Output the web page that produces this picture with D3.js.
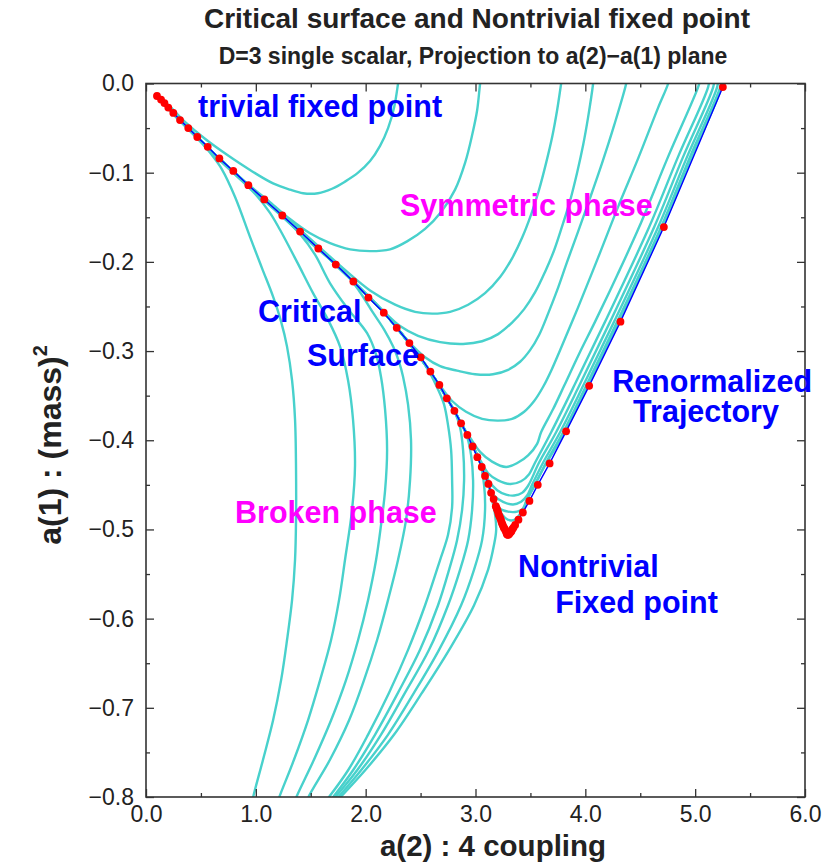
<!DOCTYPE html>
<html><head><meta charset="utf-8">
<script src="https://cdn.jsdelivr.net/npm/d3@7"></script>
<style>body{margin:0;background:#fff}svg{display:block}text{font-family:"Liberation Sans",Arial,Helvetica,sans-serif}</style>
</head><body><svg id="chart" width="836" height="864"></svg>
<script>
// ---------- DATA ----------
const xMajor = [0,1,2,3,4,5,6];
const xMinor = [0.5,1.5,2.5,3.5,4.5,5.5];
const yMajor = [0,-0.1,-0.2,-0.3,-0.4,-0.5,-0.6,-0.7,-0.8];
const yMinor = [-0.05,-0.15,-0.25,-0.35,-0.45,-0.55,-0.65,-0.75];

// Renormalized trajectory (red dots / blue line)
const trajectory = [[0.100,-0.014],[0.137,-0.018],[0.168,-0.022],[0.203,-0.027],[0.249,-0.033],[0.310,-0.041],[0.385,-0.050],[0.467,-0.060],[0.562,-0.071],[0.668,-0.084],[0.795,-0.098],[0.932,-0.114],[1.077,-0.130],[1.241,-0.148],[1.403,-0.166],[1.569,-0.185],[1.728,-0.203],[1.888,-0.222],[2.025,-0.240],[2.165,-0.257],[2.283,-0.274],[2.398,-0.291],[2.502,-0.307],[2.589,-0.323],[2.671,-0.338],[2.739,-0.353],[2.808,-0.367],[2.869,-0.381],[2.926,-0.394],[2.974,-0.407],[3.017,-0.419],[3.057,-0.430],[3.087,-0.440],[3.118,-0.449],[3.142,-0.459],[3.165,-0.466],[3.185,-0.474],[3.192,-0.476],[3.198,-0.478],[3.204,-0.480],[3.210,-0.483],[3.217,-0.485],[3.224,-0.487],[3.231,-0.489],[3.238,-0.492],[3.244,-0.494],[3.251,-0.496],[3.258,-0.498],[3.265,-0.499],[3.272,-0.501],[3.279,-0.503],[3.285,-0.505],[3.292,-0.506],[3.299,-0.506],[3.306,-0.505],[3.313,-0.504],[3.320,-0.503],[3.327,-0.502],[3.333,-0.500],[3.345,-0.498],[3.361,-0.495],[3.391,-0.489],[3.431,-0.481],[3.491,-0.468],[3.567,-0.450],[3.675,-0.426],[3.825,-0.390],[4.035,-0.339],[4.320,-0.267],[4.715,-0.161],[5.252,-0.004]];

// Flows into the symmetric phase
const symFlow1 = [[0.100,-0.013],[0.219,-0.026],[0.355,-0.043],[0.537,-0.062],[0.738,-0.080],[0.947,-0.097],[1.157,-0.112],[1.311,-0.119],[1.430,-0.123],[1.566,-0.123],[1.694,-0.118],[1.812,-0.110],[1.931,-0.100],[2.040,-0.087],[2.131,-0.070],[2.204,-0.050],[2.259,-0.027],[2.295,0.000],[2.302,0.006]];
const symFlow2 = [[0.100,-0.014],[0.310,-0.041],[0.665,-0.084],[0.929,-0.113],[1.129,-0.133],[1.311,-0.152],[1.494,-0.168],[1.676,-0.179],[1.858,-0.186],[2.040,-0.188],[2.222,-0.186],[2.377,-0.177],[2.541,-0.163],[2.687,-0.144],[2.814,-0.119],[2.905,-0.089],[2.969,-0.058],[3.015,-0.030],[3.042,0.000],[3.050,0.006]];
const symFlow3 = [[0.100,-0.014],[0.310,-0.041],[0.665,-0.084],[0.929,-0.114],[1.239,-0.146],[1.566,-0.182],[1.812,-0.209],[2.040,-0.232],[2.268,-0.248],[2.450,-0.256],[2.605,-0.258],[2.769,-0.256],[2.933,-0.248],[3.087,-0.235],[3.224,-0.217],[3.333,-0.196],[3.424,-0.173],[3.506,-0.147],[3.579,-0.119],[3.643,-0.089],[3.698,-0.060],[3.743,-0.030],[3.780,0.000],[3.788,0.006]];
const symFlow4 = [[0.100,-0.014],[0.310,-0.041],[0.665,-0.084],[0.929,-0.114],[1.239,-0.147],[1.566,-0.184],[1.894,-0.223],[2.168,-0.256],[2.313,-0.272],[2.477,-0.283],[2.678,-0.290],[2.887,-0.292],[3.060,-0.289],[3.206,-0.281],[3.333,-0.268],[3.443,-0.253],[3.543,-0.234],[3.634,-0.211],[3.716,-0.187],[3.789,-0.160],[3.862,-0.131],[3.925,-0.100],[3.980,-0.069],[4.025,-0.038],[4.071,0.000],[4.076,0.006]];
const symFlow5 = [[0.100,-0.014],[0.310,-0.041],[0.665,-0.084],[0.929,-0.114],[1.239,-0.147],[1.566,-0.184],[1.894,-0.223],[2.168,-0.257],[2.395,-0.290],[2.541,-0.307],[2.678,-0.317],[2.832,-0.322],[2.996,-0.326],[3.160,-0.326],[3.297,-0.321],[3.406,-0.312],[3.497,-0.299],[3.579,-0.282],[3.661,-0.258],[3.743,-0.232],[3.834,-0.200],[3.934,-0.166],[4.044,-0.128],[4.153,-0.089],[4.262,-0.047],[4.372,0.000],[4.378,0.006]];
const symFlow6 = [[0.100,-0.014],[0.310,-0.041],[0.665,-0.084],[0.929,-0.114],[1.239,-0.147],[1.566,-0.184],[1.894,-0.223],[2.168,-0.257],[2.395,-0.291],[2.587,-0.323],[2.678,-0.339],[2.787,-0.356],[2.914,-0.368],[3.060,-0.376],[3.206,-0.378],[3.333,-0.376],[3.443,-0.368],[3.534,-0.356],[3.616,-0.340],[3.689,-0.322],[3.770,-0.299],[3.934,-0.251],[4.117,-0.195],[4.299,-0.138],[4.481,-0.084],[4.663,-0.027],[4.754,0.000],[4.762,0.006]];
const symFlow7 = [[0.100,-0.014],[0.310,-0.041],[0.665,-0.084],[0.929,-0.114],[1.239,-0.147],[1.566,-0.184],[1.894,-0.223],[2.168,-0.257],[2.395,-0.291],[2.587,-0.323],[2.741,-0.353],[2.869,-0.381],[2.951,-0.397],[3.042,-0.413],[3.151,-0.424],[3.279,-0.430],[3.388,-0.425],[3.479,-0.417],[3.561,-0.404],[3.597,-0.391],[3.707,-0.365],[3.807,-0.339],[3.944,-0.303],[4.089,-0.267],[4.290,-0.215],[4.490,-0.161],[4.754,-0.082],[5.027,-0.004],[5.050,0.006]];
const symFlow8 = [[0.100,-0.014],[0.310,-0.041],[0.665,-0.084],[0.929,-0.114],[1.239,-0.147],[1.566,-0.184],[1.894,-0.223],[2.168,-0.257],[2.395,-0.291],[2.587,-0.323],[2.741,-0.353],[2.869,-0.381],[2.978,-0.407],[3.042,-0.422],[3.115,-0.437],[3.206,-0.445],[3.315,-0.449],[3.415,-0.446],[3.488,-0.438],[3.543,-0.425],[3.689,-0.391],[3.898,-0.339],[4.180,-0.267],[4.581,-0.161],[4.845,-0.082],[5.118,-0.004],[5.130,0.006]];
const symFlow9 = [[0.100,-0.014],[0.310,-0.041],[0.665,-0.084],[0.929,-0.114],[1.239,-0.147],[1.566,-0.184],[1.894,-0.223],[2.168,-0.257],[2.395,-0.291],[2.587,-0.323],[2.741,-0.353],[2.869,-0.381],[2.978,-0.407],[3.060,-0.430],[3.124,-0.446],[3.197,-0.456],[3.279,-0.461],[3.352,-0.462],[3.424,-0.459],[3.479,-0.451],[3.579,-0.425],[3.734,-0.391],[3.944,-0.339],[4.226,-0.267],[4.627,-0.161],[4.891,-0.082],[5.164,-0.004],[5.175,0.006]];
const symFlow10 = [[0.100,-0.014],[0.310,-0.041],[0.665,-0.084],[0.929,-0.114],[1.239,-0.147],[1.566,-0.184],[1.894,-0.223],[2.168,-0.257],[2.395,-0.291],[2.587,-0.323],[2.741,-0.353],[2.869,-0.381],[2.978,-0.407],[3.060,-0.430],[3.115,-0.449],[3.169,-0.462],[3.251,-0.469],[3.342,-0.472],[3.415,-0.469],[3.470,-0.462],[3.515,-0.450],[3.616,-0.425],[3.770,-0.391],[3.980,-0.339],[4.262,-0.267],[4.663,-0.161],[4.927,-0.082],[5.200,-0.004],[5.210,0.006]];
const symFlow11 = [[0.100,-0.014],[0.310,-0.041],[0.665,-0.084],[0.929,-0.114],[1.239,-0.147],[1.566,-0.184],[1.894,-0.223],[2.168,-0.257],[2.395,-0.291],[2.587,-0.323],[2.741,-0.353],[2.869,-0.381],[2.978,-0.407],[3.060,-0.430],[3.115,-0.449],[3.169,-0.466],[3.215,-0.476],[3.297,-0.480],[3.379,-0.480],[3.443,-0.476],[3.461,-0.468],[3.543,-0.450],[3.643,-0.425],[3.798,-0.391],[4.007,-0.339],[4.290,-0.267],[4.690,-0.161],[4.954,-0.082],[5.228,-0.004],[5.240,0.006]];
const symFlow12 = [[0.100,-0.014],[0.310,-0.041],[0.665,-0.084],[0.929,-0.114],[1.239,-0.147],[1.566,-0.184],[1.894,-0.223],[2.168,-0.257],[2.395,-0.291],[2.587,-0.323],[2.741,-0.353],[2.869,-0.381],[2.978,-0.407],[3.060,-0.430],[3.115,-0.449],[3.169,-0.466],[3.215,-0.478],[3.270,-0.487],[3.324,-0.490],[3.370,-0.488],[3.397,-0.484],[3.443,-0.474],[3.525,-0.453],[3.634,-0.428],[3.811,-0.391],[4.021,-0.339],[4.303,-0.267],[4.704,-0.161],[4.973,-0.082],[5.241,-0.004],[5.250,0.006]];

// Flows into the broken phase
const brkFlow1 = [[0.100,-0.015],[0.237,-0.032],[0.383,-0.050],[0.510,-0.067],[0.605,-0.081],[0.690,-0.096],[0.810,-0.127],[0.947,-0.172],[1.056,-0.207],[1.157,-0.239],[1.230,-0.267],[1.284,-0.295],[1.330,-0.333],[1.357,-0.377],[1.366,-0.433],[1.366,-0.489],[1.357,-0.534],[1.330,-0.579],[1.284,-0.624],[1.230,-0.669],[1.157,-0.714],[1.066,-0.758],[0.974,-0.801],[0.965,-0.808]];
const brkFlow2 = [[0.100,-0.015],[0.310,-0.042],[0.665,-0.085],[0.838,-0.105],[1.002,-0.125],[1.129,-0.145],[1.220,-0.164],[1.375,-0.200],[1.521,-0.235],[1.658,-0.265],[1.767,-0.295],[1.840,-0.333],[1.885,-0.377],[1.903,-0.428],[1.876,-0.478],[1.812,-0.534],[1.758,-0.579],[1.685,-0.624],[1.585,-0.669],[1.475,-0.714],[1.348,-0.758],[1.211,-0.801],[1.193,-0.808]];
const brkFlow3 = [[0.100,-0.015],[0.310,-0.042],[0.665,-0.085],[0.929,-0.115],[1.239,-0.149],[1.403,-0.169],[1.539,-0.192],[1.676,-0.224],[1.840,-0.253],[2.013,-0.280],[2.095,-0.304],[2.140,-0.329],[2.177,-0.366],[2.195,-0.411],[2.177,-0.456],[2.140,-0.495],[2.095,-0.534],[2.022,-0.579],[1.931,-0.624],[1.821,-0.669],[1.685,-0.714],[1.530,-0.758],[1.366,-0.801],[1.348,-0.808]];
const brkFlow4 = [[0.100,-0.015],[0.310,-0.042],[0.665,-0.085],[0.929,-0.115],[1.239,-0.149],[1.566,-0.186],[1.812,-0.212],[1.949,-0.234],[2.067,-0.257],[2.168,-0.276],[2.250,-0.295],[2.304,-0.312],[2.341,-0.329],[2.386,-0.360],[2.413,-0.400],[2.404,-0.445],[2.368,-0.489],[2.295,-0.534],[2.204,-0.579],[2.104,-0.624],[1.985,-0.669],[1.849,-0.714],[1.676,-0.758],[1.475,-0.801],[1.457,-0.808]];
const brkFlow5 = [[0.100,-0.014],[0.310,-0.041],[0.665,-0.084],[0.929,-0.114],[1.239,-0.147],[1.566,-0.184],[1.894,-0.223],[2.168,-0.257],[2.395,-0.291],[2.495,-0.307],[2.587,-0.325],[2.659,-0.343],[2.714,-0.360],[2.750,-0.383],[2.778,-0.411],[2.787,-0.445],[2.787,-0.475],[2.750,-0.506],[2.678,-0.534],[2.541,-0.585],[2.386,-0.635],[2.213,-0.683],[2.022,-0.730],[1.840,-0.770],[1.648,-0.803]];
const brkFlow6 = [[0.100,-0.014],[0.310,-0.041],[0.665,-0.084],[0.929,-0.114],[1.239,-0.147],[1.566,-0.184],[1.894,-0.223],[2.168,-0.257],[2.395,-0.291],[2.587,-0.323],[2.741,-0.353],[2.814,-0.369],[2.860,-0.386],[2.887,-0.411],[2.896,-0.445],[2.878,-0.478],[2.832,-0.512],[2.760,-0.545],[2.659,-0.585],[2.495,-0.635],[2.295,-0.683],[2.086,-0.730],[1.885,-0.770],[1.685,-0.803]];
const brkFlow7 = [[0.100,-0.014],[0.310,-0.041],[0.665,-0.084],[0.929,-0.114],[1.239,-0.147],[1.566,-0.184],[1.894,-0.223],[2.168,-0.257],[2.395,-0.291],[2.587,-0.323],[2.741,-0.353],[2.869,-0.381],[2.923,-0.396],[2.960,-0.417],[2.978,-0.445],[2.969,-0.478],[2.933,-0.512],[2.860,-0.545],[2.750,-0.585],[2.577,-0.635],[2.359,-0.683],[2.140,-0.730],[1.922,-0.770],[1.703,-0.803]];
const brkFlow8 = [[0.100,-0.014],[0.310,-0.041],[0.665,-0.084],[0.929,-0.114],[1.239,-0.147],[1.566,-0.184],[1.894,-0.223],[2.168,-0.257],[2.395,-0.291],[2.587,-0.323],[2.741,-0.353],[2.869,-0.381],[2.978,-0.407],[3.042,-0.425],[3.078,-0.450],[3.087,-0.478],[3.060,-0.512],[2.987,-0.545],[2.869,-0.585],[2.668,-0.635],[2.441,-0.683],[2.204,-0.730],[1.958,-0.770],[1.730,-0.803]];
const brkFlow9 = [[0.100,-0.014],[0.310,-0.041],[0.665,-0.084],[0.929,-0.114],[1.239,-0.147],[1.566,-0.184],[1.894,-0.223],[2.168,-0.257],[2.395,-0.291],[2.587,-0.323],[2.741,-0.353],[2.869,-0.381],[2.978,-0.407],[3.060,-0.430],[3.115,-0.449],[3.151,-0.467],[3.179,-0.484],[3.188,-0.501],[3.169,-0.517],[3.115,-0.545],[2.987,-0.585],[2.760,-0.635],[2.514,-0.683],[2.259,-0.730],[1.995,-0.770],[1.749,-0.803]];

const symFlows = [symFlow1,symFlow2,symFlow3,symFlow4,symFlow5,symFlow6,symFlow7,symFlow8,symFlow9,symFlow10,symFlow11,symFlow12];
const brkFlows = [brkFlow1,brkFlow2,brkFlow3,brkFlow4,brkFlow5,brkFlow6,brkFlow7,brkFlow8,brkFlow9];

// Annotations: text and anchor in data units
const annotations = [
  {text:"trivial fixed point", x:0.474, y:-0.0376, color:"blue"},
  {text:"Symmetric phase", x:2.313, y:-0.1485, color:"magenta"},
  {text:"Critical", x:1.020, y:-0.267, color:"blue"},
  {text:"Surface", x:1.466, y:-0.3167, color:"blue"},
  {text:"Renormalized", x:4.244, y:-0.346, color:"blue"},
  {text:"Trajectory", x:4.435, y:-0.379, color:"blue"},
  {text:"Broken phase", x:0.811, y:-0.4927, color:"magenta"},
  {text:"Nontrivial", x:3.388, y:-0.5533, color:"blue"},
  {text:"Fixed point", x:3.725, y:-0.5936, color:"blue"}
];

const titleText = "Critical surface and Nontrivial fixed point";
const subtitleText = "D=3 single scalar, Projection to a(2)\u2212a(1) plane";
const xLabel = "a(2) : 4 coupling";
const yLabel = "a(1) : (mass)";

// ---------- DRAWING ----------
const svg = d3.select("#chart");
const L=146, R=805, T=83.5, B=797;
const x = d3.scaleLinear().domain([0,6]).range([L,R]);
const y = d3.scaleLinear().domain([-0.8,0]).range([B,T]);
const colors = {blue:"#0000ff", magenta:"#ff00ff", cyan:"#48d1cc", red:"#ff0000", axis:"#333333", text:"#222222"};

svg.append("rect").attr("width",836).attr("height",864).attr("fill","#fff");
svg.append("defs").append("clipPath").attr("id","plotclip")
  .append("rect").attr("x",L).attr("y",T).attr("width",R-L).attr("height",B-T);

const line = d3.line().x(d=>x(d[0])).y(d=>y(d[1])).curve(d3.curveCatmullRom.alpha(0.5));
const plot = svg.append("g").attr("clip-path","url(#plotclip)");
plot.selectAll("path.flow").data(symFlows.concat(brkFlows)).join("path")
  .attr("class","flow").attr("d",line).attr("fill","none")
  .attr("stroke",colors.cyan).attr("stroke-width",2.4).attr("stroke-linejoin","round");

plot.append("path").datum(trajectory).attr("d",d3.line().x(d=>x(d[0])).y(d=>y(d[1])))
  .attr("fill","none").attr("stroke",colors.blue).attr("stroke-width",1.4);

svg.append("g").selectAll("circle").data(trajectory).join("circle")
  .attr("cx",d=>x(d[0])).attr("cy",d=>y(d[1])).attr("r",3.9).attr("fill",colors.red);

// axes
const fmtX = d=>d.toFixed(1);
const fmtY = d=> d===0 ? "0.0" : "\u2212"+Math.abs(d).toFixed(1);
function styleAxis(g){
  g.select(".domain").remove();
  g.selectAll(".tick line").attr("stroke",colors.axis).attr("stroke-width",1.3);
  g.selectAll(".tick text").attr("fill",colors.text).style("font-size","23px");
}
svg.append("g").attr("transform",`translate(0,${B})`)
  .call(d3.axisBottom(x).tickValues(xMajor).tickSize(-8).tickPadding(9).tickFormat(fmtX)).call(styleAxis);
svg.append("g").attr("transform",`translate(0,${B})`)
  .call(d3.axisBottom(x).tickValues(xMinor).tickSize(-4).tickFormat("")).call(styleAxis);
svg.append("g").attr("transform",`translate(0,${T})`)
  .call(d3.axisTop(x).tickValues(xMajor).tickSize(-8).tickFormat("")).call(styleAxis);
svg.append("g").attr("transform",`translate(0,${T})`)
  .call(d3.axisTop(x).tickValues(xMinor).tickSize(-4).tickFormat("")).call(styleAxis);
svg.append("g").attr("transform",`translate(${L},0)`)
  .call(d3.axisLeft(y).tickValues(yMajor).tickSize(-8).tickPadding(12).tickFormat(fmtY)).call(styleAxis);
svg.append("g").attr("transform",`translate(${L},0)`)
  .call(d3.axisLeft(y).tickValues(yMinor).tickSize(-4).tickFormat("")).call(styleAxis);
svg.append("g").attr("transform",`translate(${R},0)`)
  .call(d3.axisRight(y).tickValues(yMajor).tickSize(-8).tickFormat("")).call(styleAxis);
svg.append("g").attr("transform",`translate(${R},0)`)
  .call(d3.axisRight(y).tickValues(yMinor).tickSize(-4).tickFormat("")).call(styleAxis);

svg.append("rect").attr("x",L).attr("y",T).attr("width",R-L).attr("height",B-T)
  .attr("fill","none").attr("stroke",colors.axis).attr("stroke-width",1.6);

// annotations
svg.append("g").selectAll("text").data(annotations).join("text")
  .attr("x",d=>x(d.x)).attr("y",d=>y(d.y)).text(d=>d.text)
  .attr("fill",d=>colors[d.color]).style("font-size","30.5px").style("font-weight","bold");

// titles
svg.append("text").attr("x",477).attr("y",28).attr("text-anchor","middle")
  .attr("fill",colors.text).style("font-size","28px").style("font-weight","bold").text(titleText);
svg.append("text").attr("x",473).attr("y",64).attr("text-anchor","middle")
  .attr("fill",colors.text).style("font-size","23px").style("font-weight","bold").text(subtitleText);
svg.append("text").attr("x",493).attr("y",856).attr("text-anchor","middle")
  .attr("fill",colors.text).style("font-size","29.5px").style("font-weight","bold").text(xLabel);
const yl = svg.append("text").attr("transform","translate(61,445) rotate(-90)").attr("text-anchor","middle")
  .attr("fill",colors.text).style("font-size","32px").style("font-weight","bold");
yl.append("tspan").text(yLabel);
yl.append("tspan").attr("dy",-14).style("font-size","20px").text("2");
</script></body></html>
